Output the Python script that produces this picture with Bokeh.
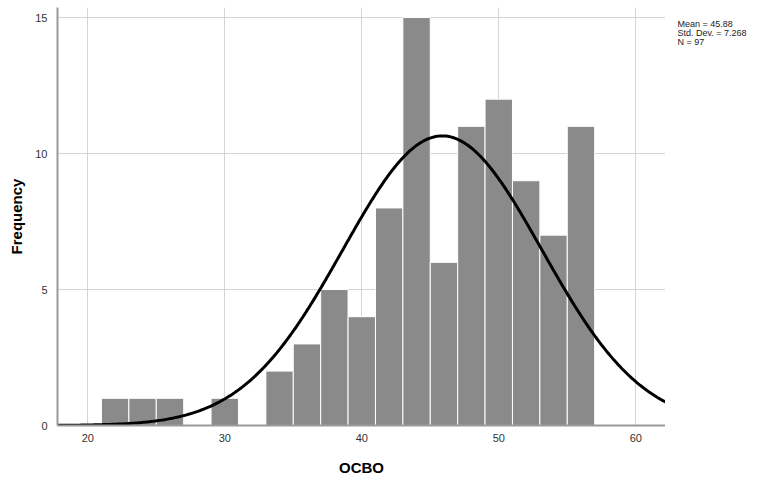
import numpy as np
from bokeh.plotting import figure
from bokeh.layouts import row
from bokeh.models import FixedTicker, Range1d
from bokeh.core.properties import value
from bokeh.embed import file_html
from bokeh.resources import INLINE

# Histogram data (bins of width 2, starting at 21)
bin_lefts = [21, 23, 25, 27, 29, 31, 33, 35, 37, 39, 41, 43, 45, 47, 49, 51, 53, 55]
counts    = [1, 1, 1, 0, 1, 0, 2, 3, 5, 4, 8, 15, 6, 11, 12, 9, 7, 11]
bin_width = 2
mean = 45.88
std = 7.268
n = 97
x_ticks = [20, 30, 40, 50, 60]
y_ticks = [0, 5, 10, 15]

FONT = "Liberation Sans"
X0, X1 = 17.79, 62.17
Y0, Y1 = 0, 15.37

p = figure(width=665, height=478, output_backend="svg", toolbar_location=None,
           x_range=Range1d(X0, X1), y_range=Range1d(Y0, Y1),
           min_border_left=57, min_border_right=0, min_border_top=7, min_border_bottom=53)
p.outline_line_color = None
p.background_fill_color = "white"

lefts = [b for b, c in zip(bin_lefts, counts) if c > 0]
rights = [b + bin_width for b, c in zip(bin_lefts, counts) if c > 0]
tops = [c for c in counts if c > 0]
p.quad(left=lefts, right=rights, bottom=0, top=tops, fill_color="#8a8a8a",
       line_color="white", line_width=1)

xs = np.linspace(X0, X1, 400)
ys = n * bin_width / (std * np.sqrt(2 * np.pi)) * np.exp(-0.5 * ((xs - mean) / std) ** 2)
p.line(xs, ys, line_color="black", line_width=3)

for ax in (p.xaxis[0], p.yaxis[0]):
    ax.major_tick_line_color = None
    ax.minor_tick_line_color = None
    ax.axis_line_color = "#9a9a9a"
    ax.axis_line_width = 2
    ax.major_label_text_font = FONT
    ax.major_label_text_font_size = "11px"
    ax.major_label_text_color = "#333333"
    ax.axis_label_text_font = FONT
    ax.axis_label_text_font_style = "bold"
    ax.axis_label_text_font_size = "15px"
    ax.axis_label_text_color = "black"

p.xaxis.ticker = FixedTicker(ticks=x_ticks)
p.yaxis.ticker = FixedTicker(ticks=y_ticks)
p.xaxis.axis_label = "OCBO"
p.yaxis.axis_label = "Frequency"
p.xaxis.major_label_standoff = 2
p.xaxis.axis_label_standoff = 14
p.yaxis.major_label_standoff = 4
p.yaxis.axis_label_standoff = 7

p.xgrid.ticker = FixedTicker(ticks=x_ticks)
p.ygrid.ticker = FixedTicker(ticks=y_ticks)
p.grid.grid_line_color = "#d4d4d4"
p.grid.grid_line_width = 1
p.grid.level = "underlay"

# Side panel with the summary statistics
stats = [f"Mean = {mean}", f"Std. Dev. = {std}", f"N = {n}"]
side = figure(width=99, height=478, output_backend="svg", toolbar_location=None,
              x_range=Range1d(0, 99), y_range=Range1d(0, 478),
              x_axis_type=None, y_axis_type=None,
              min_border_left=0, min_border_right=0, min_border_top=0, min_border_bottom=0)
side.outline_line_color = None
side.grid.visible = False
side.text(x=[12] * len(stats), y=[478 - 19 - 10 * i for i in range(len(stats))], text=stats,
          text_font=value(FONT), text_font_size="9px", text_color="#222222",
          text_baseline="middle", text_align="left")

layout = row(p, side, spacing=0)
open("out.html", "w").write(file_html(layout, INLINE))
